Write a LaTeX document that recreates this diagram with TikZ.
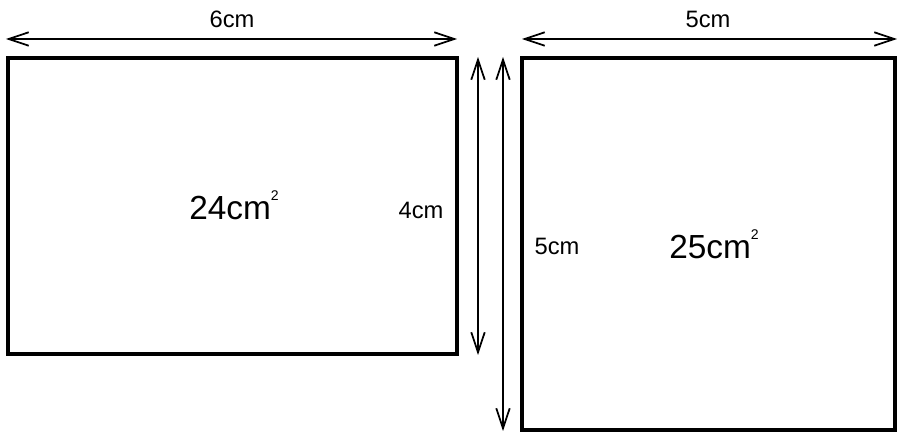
\documentclass[tikz,border=0pt]{standalone}
\usepackage{fontspec}
\setmainfont{Liberation Sans}
\usetikzlibrary{arrows.meta}
\usetikzlibrary{positioning}

\begin{document}
\begin{tikzpicture}[x=0.02cm,y=-0.02cm,
    box/.style={line width=2.2pt},
    dimline/.style={line width=1pt,{Straight Barb[length=0.4cm,width=0.27cm]}-{Straight Barb[length=0.4cm,width=0.27cm]}},
    lab/.style={inner sep=0pt,font=\fontsize{13.5}{16}\selectfont},
    area/.style={inner sep=0pt,font=\fontsize{19}{22}\selectfont}]
\useasboundingbox (0,0) rectangle (900,432);
% The two rectangles
\draw[box] (8,58) rectangle (457,354);
\draw[box] (522,58) rectangle (895,430);
\coordinate (L1) at (6,39);
\coordinate (L2) at (457,39);
\coordinate (R1) at (522,39);
\coordinate (R2) at (897,39);
\coordinate (V1) at (478,57);
\coordinate (V2) at (478,355);
\coordinate (W1) at (503,57);
\coordinate (W2) at (503,431);
\draw[dimline] (L1) -- (L2); % 6cm
\draw[dimline] (R1) -- (R2); % 5cm
\draw[dimline] (V1) -- (V2); % 4cm
\draw[dimline] (W1) -- (W2); % 5cm
%% Labels for the sides and the areas.
\node[lab] (top6) at (232,19) {6cm};
\node[lab] (top5) at (708,19) {5cm};
\node[lab] (side4) at (421,210) {4cm};
\node[lab] (side5) at (557,246) {5cm};
\node[area] (a24) at (234,205) {24cm\raisebox{1.1ex}{\fontsize{8}{9}\selectfont 2}};
\node[area] (a25) at (714,244) {25cm\raisebox{1.1ex}{\fontsize{8}{9}\selectfont 2}};
\end{tikzpicture}
\end{document}
